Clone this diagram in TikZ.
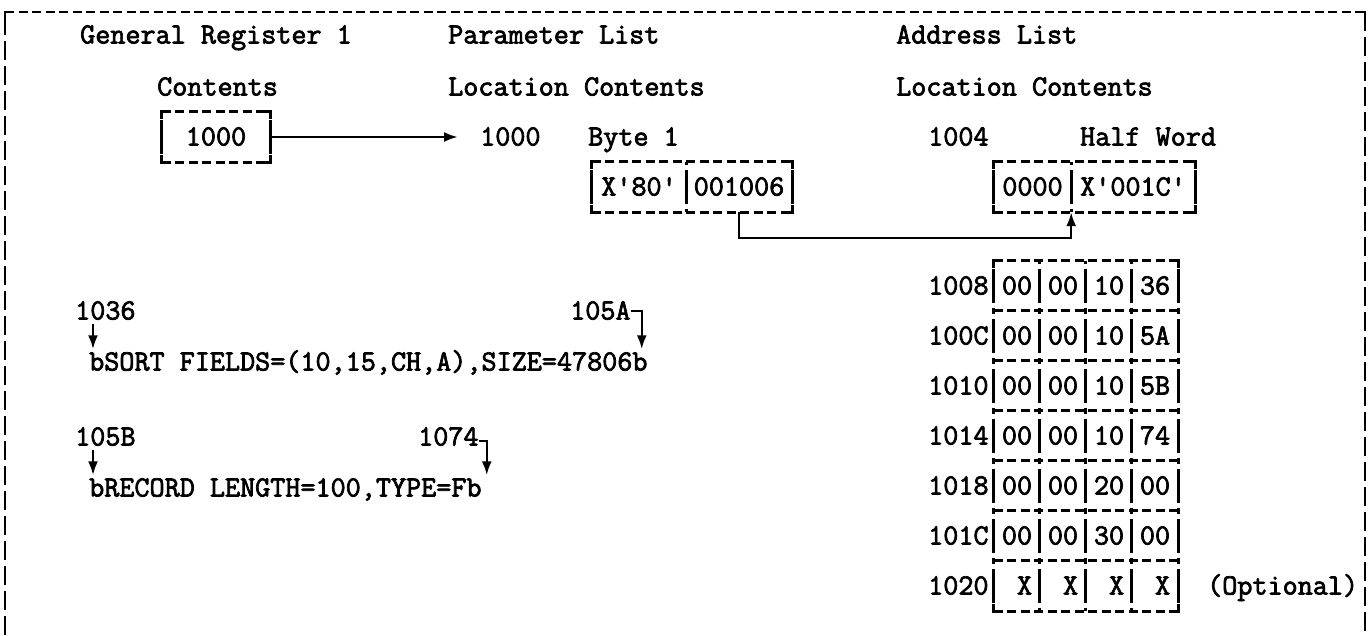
\documentclass[tikz,border=0pt]{standalone}
\usepackage{fontspec}
\setmonofont{Latin Modern Mono}[FakeBold=2.5]
\usetikzlibrary{arrows.meta,calc}
\tikzset{
  every node/.style={inner sep=0pt, font=\ttfamily\fontsize{29.3}{34}\selectfont, text height=17pt, text depth=0pt},
  lbl/.style={anchor=west},
  cellbox/.style={minimum width=#1, minimum height=50pt},
  hdash/.style={line width=2.8pt, dash pattern=on 9pt off 4.5pt},
  vdash/.style={line width=2.8pt, dash pattern=on 34pt off 5pt on 6pt off 5pt, dash phase=42pt},
  bdash/.style={line width=2.8pt, dash pattern=on 19pt off 6pt},
  corner/.style={line width=2.8pt},
  conn/.style={line width=2.5pt},
  arr/.style={conn, -{Latex[length=14pt,width=10pt]}},
}
\newcommand{\twbox}[2]{%
  \draw[hdash] (#1) -- (#1 -| #2);
  \draw[hdash] (#1 |- #2) -- (#2);
  \draw[vdash] (#1) -- (#1 |- #2);
  \draw[vdash] (#1 -| #2) -- (#2);
  \draw[corner] ($(#1)+(0,7)$) -- (#1) -- ++(7,0);
  \draw[corner] ($(#1 -| #2)+(0,7)$) -- (#1 -| #2) -- ++(-7,0);
  \draw[corner] ($(#1 |- #2)+(0,-7)$) -- (#1 |- #2) -- ++(7,0);
  \draw[corner] ($(#2)+(0,-7)$) -- (#2) -- ++(-7,0);
}
\begin{document}
\begin{tikzpicture}[x=1pt,y=-1pt]
\useasboundingbox (0,0) rectangle (1372,635);
% outer border
\coordinate (btl) at (5,12);
\coordinate (btr) at (1365,12);
\coordinate (bbl) at (5,635);
\coordinate (bbr) at (1365,635);
\draw[bdash] (bbl) -- (btl);
\draw[hdash] (btl) -- (btr);
\draw[bdash] (btr) -- (bbr);
\draw[corner] ($(btl)+(0,8)$) -- (btl) -- ++(8,0);
\draw[corner] ($(btr)+(0,8)$) -- (btr) -- ++(-8,0);

% headings
\node[lbl] (hgr) at (80,35) {General Register 1};
\node[lbl] (hcont) at (157,87) {Contents};
\node[lbl] (hpl) at (448,35) {Parameter List};
\node[lbl] (hplc) at (448,87) {Location Contents};
\node[lbl] (hal) at (896,35) {Address List};
\node[lbl] (halc) at (896,87) {Location Contents};

% register
\node[cellbox=108pt] (reg) at (216,137) {1000};
\twbox{reg.north west}{reg.south east}
\node[lbl] (ploc) at (480,137) {1000};
\node[lbl] (byte) at (588,137) {Byte 1};
\node[lbl] (aloc) at (928,137) {1004};
\node[lbl] (hw) at (1080,137) {Half Word};
\draw[arr, shorten >=22pt] (reg.east) -- (ploc.west);

% parameter list box
\node[cellbox=94pt] (p1) at (639,187) {X'80'};
\node[cellbox=106pt] (p2) at (739,187) {001006};
\twbox{p1.north west}{p2.south east}
\draw[vdash] (p1.north east) -- (p1.south east);

% address list box
\node[cellbox=77pt] (a1) at (1032.5,187) {0000};
\node[cellbox=124pt] (a2) at (1133,187) {X'001C'};
\twbox{a1.north west}{a2.south east}
\draw[vdash] (a1.north east) -- (a1.south east);

\draw[arr] (p2.south) -- ++(0,26) -| (a1.south east);

% address grid
\foreach \lab [count=\r] in {1008,100C,1010,1014,1018,101C,1020}
  \node[lbl] (l\r) at (928,{286+50*(\r-1)}) {\lab};
\foreach \a/\b/\c/\d [count=\r] in {00/00/10/36,00/00/10/5A,00/00/10/5B,00/00/10/74,00/00/20/00,00/00/30/00,\phantom{0}X/\phantom{0}X/\phantom{0}X/\phantom{0}X}{
  \node[cellbox=46pt] (g\r-1) at (1017,{286+50*(\r-1)}) {\a};
  \node[cellbox=46pt] (g\r-2) at (1063,{286+50*(\r-1)}) {\b};
  \node[cellbox=46pt] (g\r-3) at (1109,{286+50*(\r-1)}) {\c};
  \node[cellbox=46pt] (g\r-4) at (1155,{286+50*(\r-1)}) {\d};
}
\foreach \r in {1,...,7}
  \draw[hdash] (g\r-1.north west) -- (g\r-4.north east);
\draw[hdash] (g7-1.south west) -- (g7-4.south east);
\foreach \c in {1,...,4}
  \draw[vdash] (g1-\c.north west) -- (g7-\c.south west);
\draw[vdash] (g1-4.north east) -- (g7-4.south east);
\draw[corner] ($(g1-1.north west)+(0,7)$) -- (g1-1.north west) -- ++(7,0);
\draw[corner] ($(g1-4.north east)+(0,7)$) -- (g1-4.north east) -- ++(-7,0);
\draw[corner] ($(g7-1.south west)+(0,-7)$) -- (g7-1.south west) -- ++(7,0);
\draw[corner] ($(g7-4.south east)+(0,-7)$) -- (g7-4.south east) -- ++(-7,0);
\node[lbl] (opt) at (1207,586) {(Optional)};

% sort statements
\node[lbl] (s1036) at (75,311) {1036};
\node[lbl] (s105a) at (570,311) {105A};
\node[lbl] (sortA) at (89,362) {bSORT FIELDS=(10,15,CH,A),SIZE=47806b};
\node[lbl] (s105b) at (75,437) {105B};
\node[lbl] (s1074) at (418,437) {1074};
\node[lbl] (sortB) at (89,488) {bRECORD LENGTH=100,TYPE=Fb};

\coordinate (k1) at ($(s1036.south west)+(18,4)$);
\draw[arr, shorten >=4pt] (k1) -- (k1 |- sortA.north);
\coordinate (k2) at ($(s105a.east)+(11,0)$);
\draw[arr, shorten >=4pt] (s105a.east) -| (k2 |- sortA.north);
\coordinate (k3) at ($(s105b.south west)+(18,4)$);
\draw[arr, shorten >=4pt] (k3) -- (k3 |- sortB.north);
\coordinate (k4) at ($(s1074.east)+(8,4)$);
\draw[arr, shorten >=4pt] ($(s1074.east)+(0,4)$) -| (k4 |- sortB.north);
\end{tikzpicture}
\end{document}
